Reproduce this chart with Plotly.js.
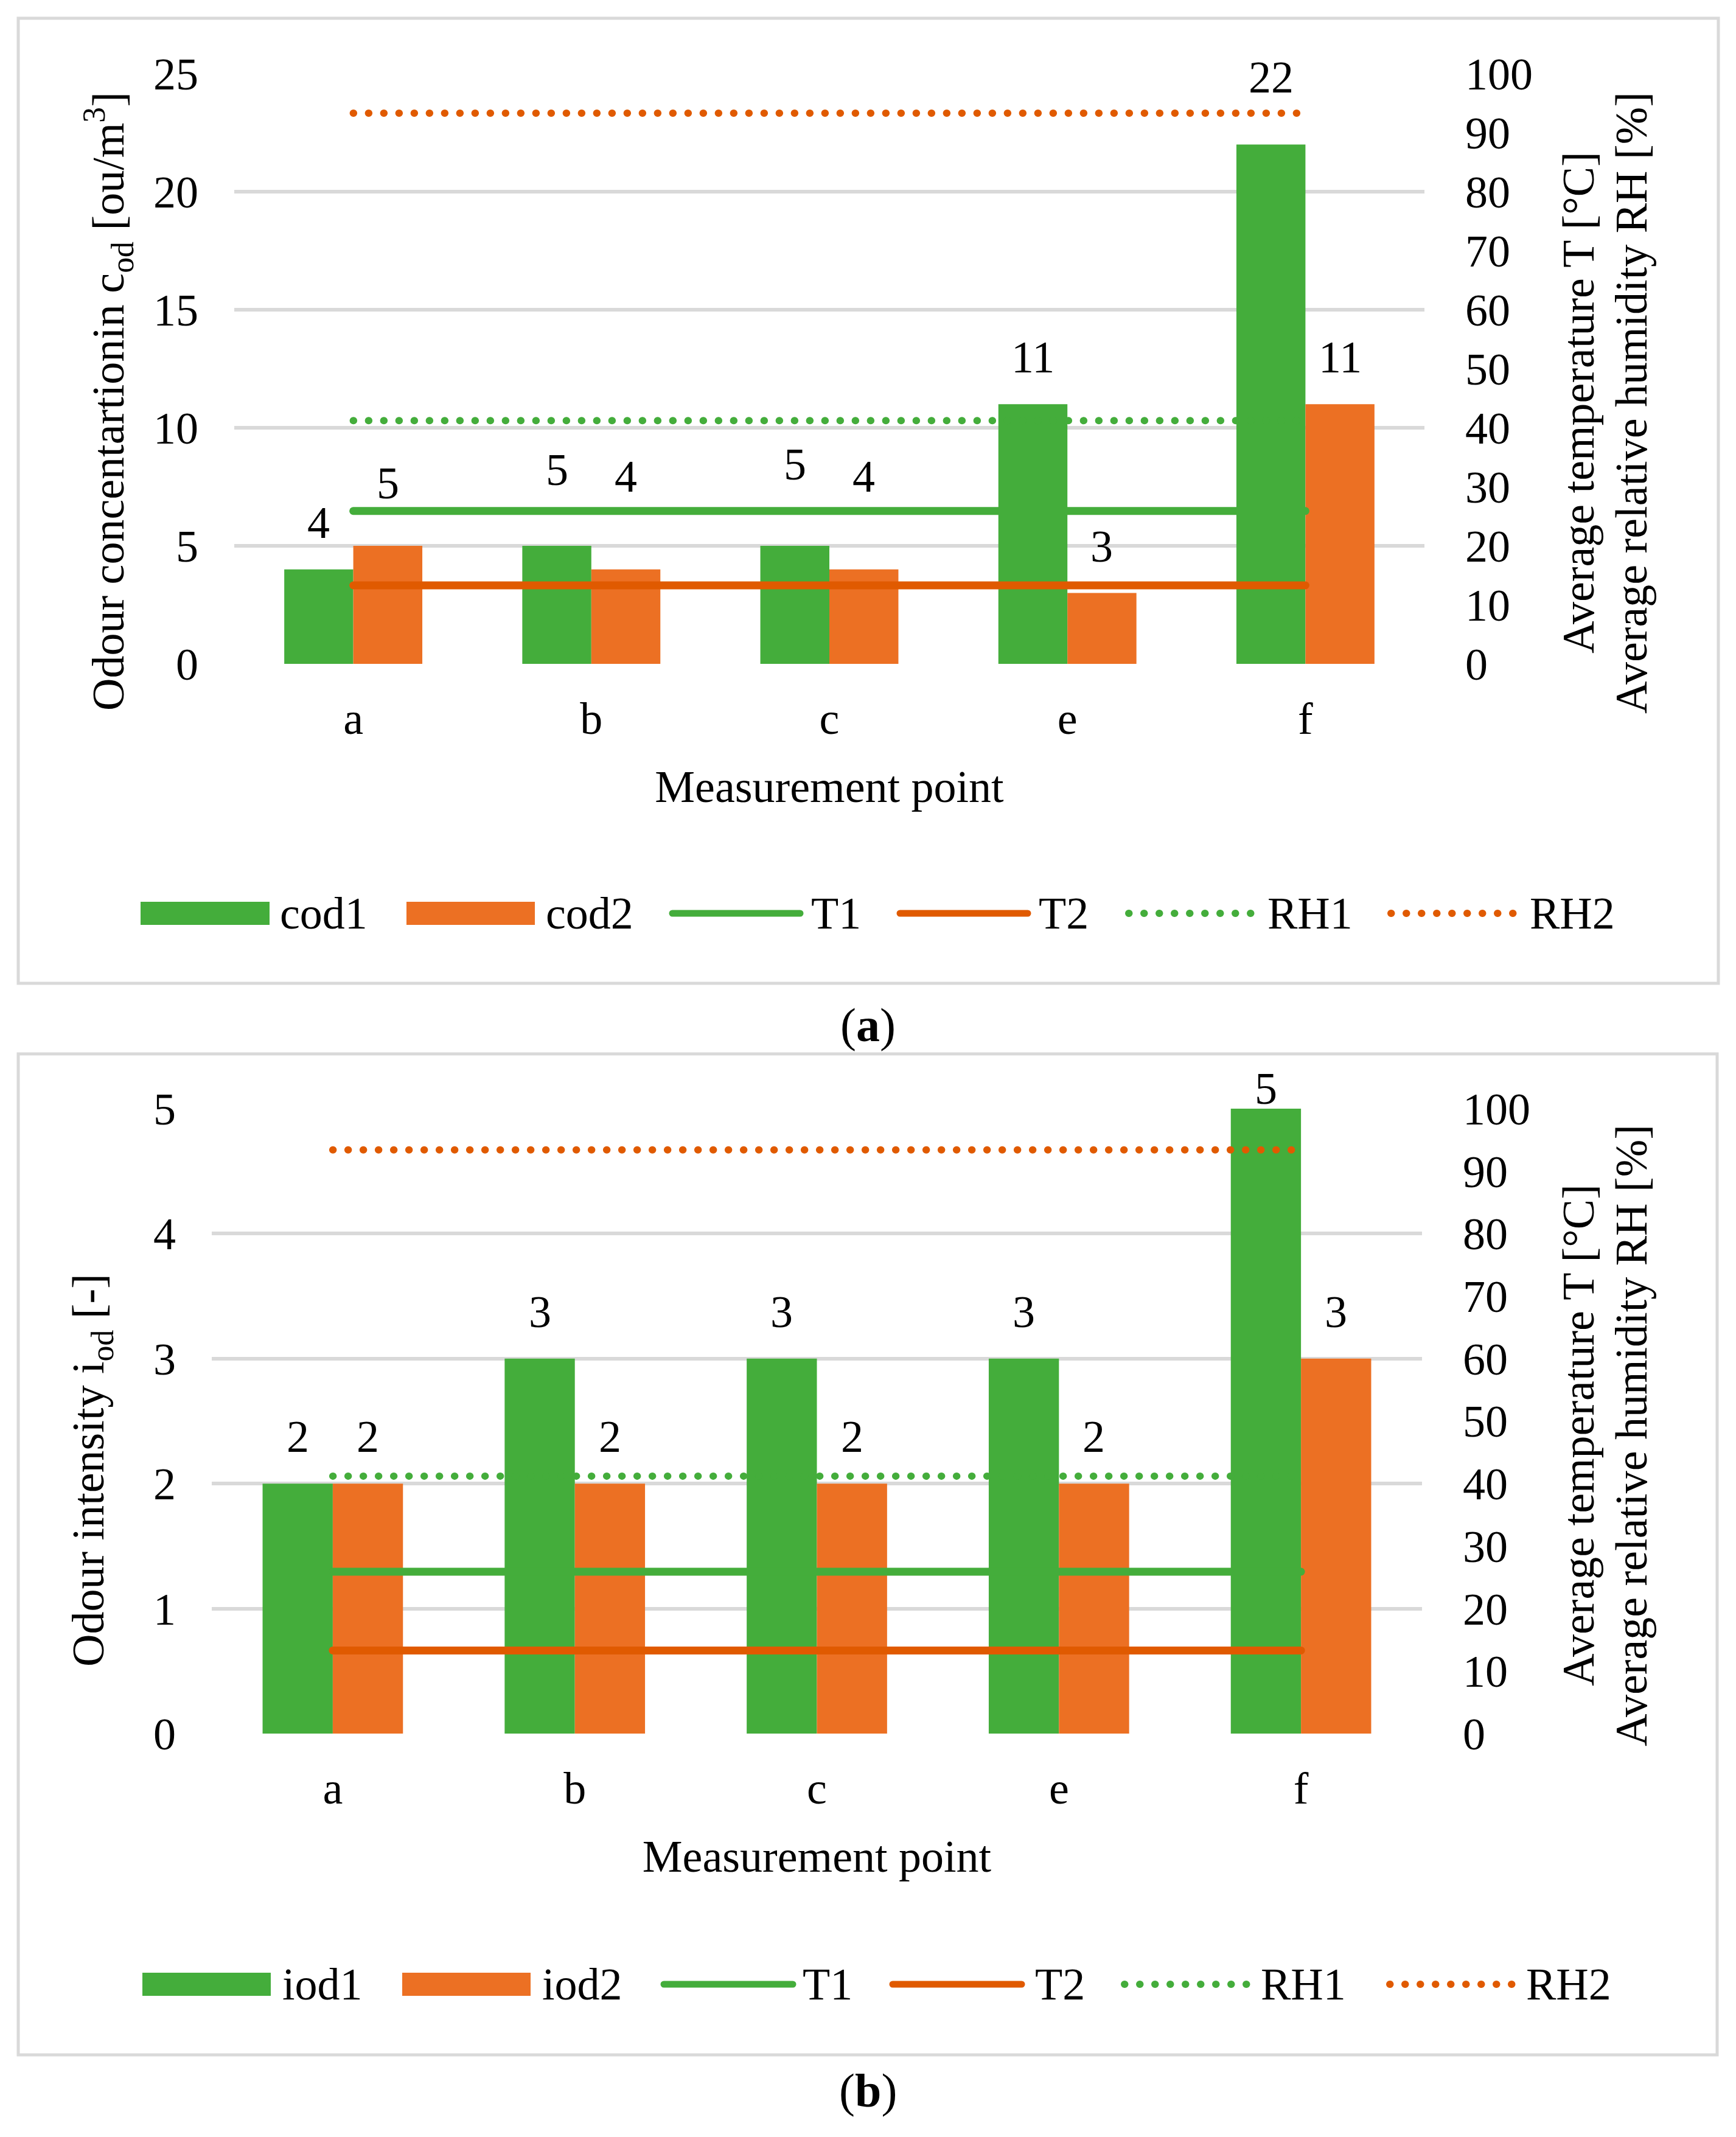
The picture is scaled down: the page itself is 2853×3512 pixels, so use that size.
<!DOCTYPE html>
<html>
<head>
<meta charset="utf-8">
<script src="https://cdn.plot.ly/plotly-3.0.1.min.js"></script>
<style>html,body{margin:0;padding:0;background:#fff;}</style>
</head>
<body>
<div id="chart" style="width:2853px;height:3512px;"></div>
<script>
// ---------------- data ----------------
const categories = ['a', 'b', 'c', 'e', 'f'];
const cod1 = [4, 5, 5, 11, 22];
const cod2 = [5, 4, 4, 3, 11];
const iod1 = [2, 3, 3, 3, 5];
const iod2 = [2, 2, 2, 2, 3];
const T1a = [25.9, 25.9, 25.9, 25.9, 25.9];
const T2a = [13.3, 13.3, 13.3, 13.3, 13.3];
const RH1a = [41.2, 41.2, 41.2, 41.2, 41.2];
const RH2a = [93.3, 93.3, 93.3, 93.3, 93.3];
const T1b = [25.9, 25.9, 25.9, 25.9, 25.9];
const T2b = [13.3, 13.3, 13.3, 13.3, 13.3];
const RH1b = [41.2, 41.2, 41.2, 41.2, 41.2];
const RH2b = [93.4, 93.4, 93.4, 93.4, 93.4];
const leftTicksA = [0, 5, 10, 15, 20, 25];
const leftTicksB = [0, 1, 2, 3, 4, 5];
const rightTicks = [0, 10, 20, 30, 40, 50, 60, 70, 80, 90, 100];
const legendA = ['cod1', 'cod2', 'T1', 'T2', 'RH1', 'RH2'];
const legendB = ['iod1', 'iod2', 'T1', 'T2', 'RH1', 'RH2'];
const xTitle = 'Measurement point';
const yTitleA = 'Odour concentartionin c<sub>od</sub> [ou/m<sup>3</sup>]';
const yTitleB = 'Odour intensity i<sub>od</sub> [-]';
const rightTitle1 = 'Average temperature T [°C]';
const rightTitle2 = 'Average relative humidity RH [%]';

// ---------------- style ----------------
const W = 2853, H = 3512;
const FONT = 'Liberation Serif';
const FS = 74;
const GREEN = '#44AD3B';
const ORANGE = '#EC7023';
const DORANGE = '#E05A00';
const GRID = '#D9D9D9';
const DOTS = '12px,13px';
const BARGAP = 0.42;
// label lift above default position (px), per bar
const liftA1 = [0, 48, 57, 0, 33];
const liftA2 = [26, 76, 76, 0, 0];
const liftB1 = [0, 0, 0, 0, -44];
const liftB2 = [0, 0, 0, 0, 0];
const LABEL_GAP = 77;

const fx = px => px / W;
const fy = py => 1 - py / H;

// plot areas in px
const PA = {l: 385, r: 2341, t: 121, b: 1091};
const PB = {l: 348, r: 2337, t: 1822, b: 2849};

const font = {family: FONT, size: FS, color: '#000'};

function barTrace(y, color, xa, ya) {
  return {type: 'bar', x: categories, y: y, xaxis: xa, yaxis: ya,
          marker: {color: color, line: {width: 0}}, hoverinfo: 'skip', showlegend: false};
}
function lineTrace(y, color, dash, width, xa, ya) {
  return {type: 'scatter', mode: 'lines', x: categories, y: y, xaxis: xa, yaxis: ya,
          line: {color: color, width: width, dash: dash}, hoverinfo: 'skip', showlegend: false};
}

const traces = [
  barTrace(cod1, GREEN, 'x', 'y'),
  barTrace(cod2, ORANGE, 'x', 'y'),
  lineTrace(T1a, GREEN, 'solid', 13, 'x', 'y2'),
  lineTrace(T2a, DORANGE, 'solid', 13, 'x', 'y2'),
  lineTrace(RH1a, GREEN, DOTS, 12, 'x', 'y2'),
  lineTrace(RH2a, DORANGE, DOTS, 12, 'x', 'y2'),
  barTrace(iod1, GREEN, 'x2', 'y3'),
  barTrace(iod2, ORANGE, 'x2', 'y3'),
  lineTrace(T1b, GREEN, 'solid', 13, 'x2', 'y4'),
  lineTrace(T2b, DORANGE, 'solid', 13, 'x2', 'y4'),
  lineTrace(RH1b, GREEN, DOTS, 12, 'x2', 'y4'),
  lineTrace(RH2b, DORANGE, DOTS, 12, 'x2', 'y4')
];

// ---------------- annotations ----------------
const annotations = [];
function labels(vals, lift, sign, P, xref, yref) {
  const cat = (P.r - P.l) / categories.length;
  const off = cat * (1 - BARGAP) / 4;
  vals.forEach((v, i) => {
    annotations.push({x: categories[i], y: v, xref: xref, yref: yref, text: String(v),
      showarrow: false, xanchor: 'center', yanchor: 'middle',
      xshift: sign * off, yshift: LABEL_GAP + lift[i], font: font});
  });
}
labels(cod1, liftA1, -1, PA, 'x', 'y');
labels(cod2, liftA2, 1, PA, 'x', 'y');
labels(iod1, liftB1, -1, PB, 'x2', 'y3');
labels(iod2, liftB2, 1, PB, 'x2', 'y3');

// rotated axis titles
function vTitle(text, xc, yc) {
  annotations.push({x: fx(xc), y: fy(yc), xref: 'paper', yref: 'paper', text: text,
    textangle: -90, showarrow: false, xanchor: 'center', yanchor: 'middle', font: font});
}
vTitle(yTitleA, 178, 660);
vTitle(rightTitle1, 2594, 662);
vTitle(rightTitle2, 2681, 662);
vTitle(yTitleB, 150, 2416);
vTitle(rightTitle1, 2594, 2359);
vTitle(rightTitle2, 2681, 2359);

// captions
annotations.push({x: 0.5, y: fy(1684), xref: 'paper', yref: 'paper', text: '(<b>a</b>)',
  showarrow: false, xanchor: 'center', yanchor: 'middle', font: {family: FONT, size: 78, color: '#000'}});
annotations.push({x: 0.5, y: fy(3435), xref: 'paper', yref: 'paper', text: '(<b>b</b>)',
  showarrow: false, xanchor: 'center', yanchor: 'middle', font: {family: FONT, size: 78, color: '#000'}});

// ---------------- shapes (panel frames + custom legend) ----------------
const shapes = [
  {type: 'rect', xref: 'paper', yref: 'paper', x0: fx(30), x1: fx(2824), y0: fy(30), y1: fy(1616),
   line: {color: GRID, width: 5}, fillcolor: 'rgba(0,0,0,0)', layer: 'below'},
  {type: 'rect', xref: 'paper', yref: 'paper', x0: fx(30), x1: fx(2822), y0: fy(1732), y1: fy(3377),
   line: {color: GRID, width: 5}, fillcolor: 'rgba(0,0,0,0)', layer: 'below'}
];

function legend(names, yc, pos) {
  const kinds = [
    {k: 'box', c: GREEN}, {k: 'box', c: ORANGE},
    {k: 'line', c: GREEN}, {k: 'line', c: DORANGE},
    {k: 'dot', c: GREEN}, {k: 'dot', c: DORANGE}
  ];
  names.forEach((n, i) => {
    const p = pos[i], kd = kinds[i];
    if (kd.k === 'box') {
      shapes.push({type: 'rect', xref: 'paper', yref: 'paper', x0: fx(p[0]), x1: fx(p[1]),
        y0: fy(yc - 19), y1: fy(yc + 19), line: {width: 0}, fillcolor: kd.c});
    } else {
      shapes.push({type: 'line', xref: 'paper', yref: 'paper', x0: fx(p[0]), x1: fx(p[1]),
        y0: fy(yc), y1: fy(yc),
        line: {color: kd.c, width: kd.k === 'line' ? 11 : 12, dash: kd.k === 'line' ? 'solid' : DOTS}});
    }
    annotations.push({x: fx(p[2]), y: fy(yc), xref: 'paper', yref: 'paper', text: n,
      showarrow: false, xanchor: 'left', yanchor: 'middle', font: font});
  });
}
legend(legendA, 1501, [[231, 443, 458], [668, 879, 895], [1105, 1315, 1331], [1479, 1689, 1705], [1855, 2061, 2081], [2286, 2492, 2512]]);
legend(legendB, 3261, [[234, 445, 462], [661, 872, 889], [1091, 1303, 1317], [1467, 1679, 1699], [1848, 2050, 2070], [2284, 2486, 2506]]);

// ---------------- layout ----------------
function xAxis(P, anchor) {
  return {domain: [fx(P.l), fx(P.r)], anchor: anchor, type: 'category',
    categoryorder: 'array', categoryarray: categories,
    showgrid: false, zeroline: false, showline: false, ticks: '',
    tickfont: font, ticklabelstandoff: 40,
    title: {text: xTitle, font: font, standoff: 45}};
}
function yLeft(P, anchor, range, tv) {
  return {domain: [fy(P.b), fy(P.t)], anchor: anchor, range: range, tickvals: tv,
    showgrid: true, gridcolor: GRID, gridwidth: 6, zeroline: false, showline: false,
    ticks: '', tickfont: font, ticklabelstandoff: 58};
}
function yRight(overlay, anchor) {
  return {overlaying: overlay, anchor: anchor, side: 'right', range: [0, 100], tickvals: rightTicks,
    showgrid: false, zeroline: false, showline: false, ticks: '', tickfont: font,
    ticklabelstandoff: 66};
}

const layout = {
  width: W, height: H,
  margin: {l: 0, r: 0, t: 0, b: 0},
  paper_bgcolor: '#fff', plot_bgcolor: 'rgba(0,0,0,0)',
  font: font,
  barmode: 'group', bargap: BARGAP, bargroupgap: 0,
  showlegend: false,
  xaxis: xAxis(PA, 'y'),
  yaxis: yLeft(PA, 'x', [0, 25], leftTicksA),
  yaxis2: yRight('y', 'x'),
  xaxis2: xAxis(PB, 'y3'),
  yaxis3: yLeft(PB, 'x2', [0, 5], leftTicksB),
  yaxis4: yRight('y3', 'x2'),
  annotations: annotations,
  shapes: shapes
};

function finish() {
  // round line caps / round dots like the original
  document.querySelectorAll('#chart path').forEach(p => {
    const da = p.style.strokeDasharray || '';
    const isLine = p.classList.contains('js-line') || (p.closest('.shapelayer') && p.getAttribute('d') && !/Z/i.test(p.getAttribute('d')));
    if (!isLine) return;
    p.style.strokeLinecap = 'round';
    if (da.indexOf('12px') >= 0) p.style.strokeDasharray = '0.5px,24.5px';
  });
  // drop empty placeholder texts
  document.querySelectorAll('#chart text').forEach(t => {
    if (!t.textContent || !t.textContent.trim()) t.remove();
  });
}

Plotly.newPlot('chart', traces, layout, {staticPlot: true, displayModeBar: false}).then(finish);
</script>
</body>
</html>
